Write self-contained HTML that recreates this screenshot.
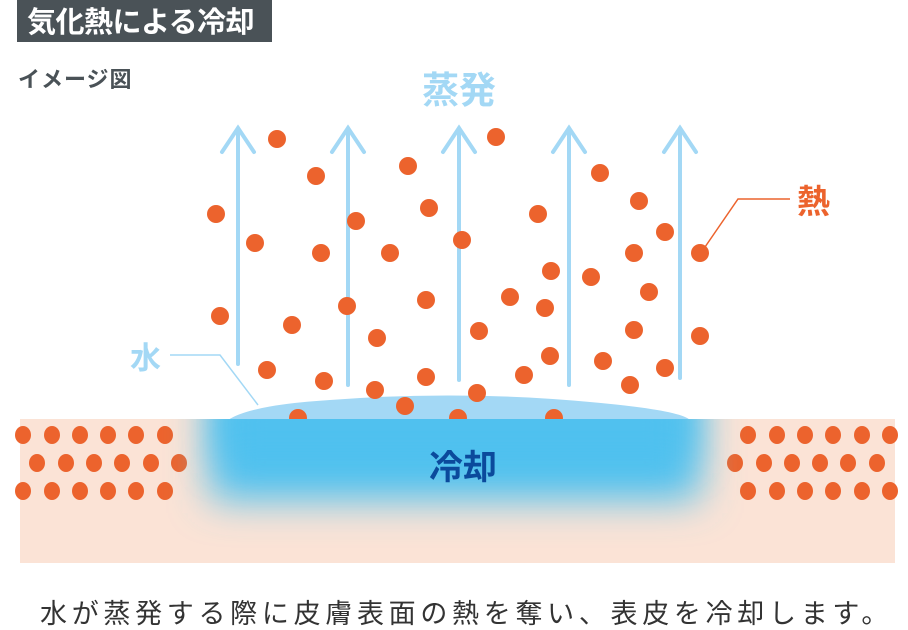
<!DOCTYPE html>
<html><head><meta charset="utf-8"><style>
html,body{margin:0;padding:0;background:#fff;}
body{width:908px;height:630px;overflow:hidden;position:relative;font-family:"Liberation Sans","Noto Sans CJK JP",sans-serif;}
</style></head><body>
<svg width="908" height="630" style="position:absolute;left:0;top:0">
<defs>
<filter id="bl" x="-30%" y="-80%" width="160%" height="260%"><feGaussianBlur stdDeviation="20"/></filter>
<clipPath id="skin"><rect x="20" y="419" width="875" height="144"/></clipPath>
</defs>
<rect x="17" y="0" width="255" height="42" fill="#4a5257"/>
<text x="27" y="32" font-size="29" font-weight="bold" fill="#fff" letter-spacing="-0.5" font-family="Liberation Sans,Noto Sans CJK JP,sans-serif">気化熱による冷却</text>
<text x="18" y="87" font-size="22" font-weight="bold" fill="#4a5257" letter-spacing="1" font-family="Liberation Sans,Noto Sans CJK JP,sans-serif">イメージ図</text>
<text x="459" y="103" font-size="37" font-weight="bold" fill="#a3d8f5" text-anchor="middle" font-family="Liberation Sans,Noto Sans CJK JP,sans-serif">蒸発</text>
<path d="M228 420 Q250 405 330 400 Q460 390 590 402 Q680 410 690 420 Z" fill="#a3d8f5"/>
<g stroke="#a3d8f5" stroke-width="4" fill="none" stroke-linecap="round">
<path d="M238 364V128M222 152L238 128L254 152"/>
<path d="M348 385V128M332 152L348 128L364 152"/>
<path d="M459 380V128M443 152L459 128L475 152"/>
<path d="M569 385V128M553 152L569 128L585 152"/>
<path d="M680 378V128M664 152L680 128L696 152"/>
</g>
<g fill="#ec632d">
<circle cx="277" cy="139" r="9"/><circle cx="216" cy="214" r="9"/><circle cx="255" cy="243" r="9"/><circle cx="316" cy="176" r="9"/><circle cx="321" cy="253" r="9"/><circle cx="356" cy="221" r="9"/><circle cx="220" cy="316" r="9"/><circle cx="292" cy="325" r="9"/><circle cx="347" cy="306" r="9"/><circle cx="377" cy="338" r="9"/><circle cx="267" cy="370" r="9"/><circle cx="324" cy="381" r="9"/><circle cx="375" cy="390" r="9"/><circle cx="405" cy="406" r="9"/><circle cx="426" cy="300" r="9"/><circle cx="429" cy="208" r="9"/><circle cx="408" cy="166" r="9"/><circle cx="390" cy="253" r="9"/><circle cx="462" cy="240" r="9"/><circle cx="479" cy="331" r="9"/><circle cx="426" cy="377" r="9"/><circle cx="458" cy="418" r="9"/><circle cx="298" cy="418" r="9"/><circle cx="496" cy="137" r="9"/>
<circle cx="600" cy="173" r="9"/><circle cx="538" cy="214" r="9"/><circle cx="639" cy="201" r="9"/><circle cx="665" cy="232" r="9"/><circle cx="634" cy="253" r="9"/><circle cx="551" cy="271" r="9"/><circle cx="591" cy="277" r="9"/><circle cx="649" cy="292" r="9"/><circle cx="510" cy="297" r="9"/><circle cx="545" cy="308" r="9"/><circle cx="634" cy="330" r="9"/><circle cx="700" cy="336" r="9"/><circle cx="550" cy="356" r="9"/><circle cx="603" cy="361" r="9"/><circle cx="665" cy="368" r="9"/><circle cx="630" cy="385" r="9"/><circle cx="524" cy="375" r="9"/><circle cx="477" cy="393" r="9"/><circle cx="554" cy="418" r="9"/><circle cx="700" cy="253" r="9"/>
</g>
<rect x="20" y="419" width="875" height="144" fill="#fbe3d6"/>
<g fill="#ec632d">
<ellipse cx="23" cy="435" rx="8" ry="9"/><ellipse cx="52" cy="435" rx="8" ry="9"/><ellipse cx="80" cy="435" rx="8" ry="9"/><ellipse cx="108" cy="435" rx="8" ry="9"/><ellipse cx="136" cy="435" rx="8" ry="9"/><ellipse cx="165" cy="435" rx="8" ry="9"/>
<ellipse cx="37" cy="463" rx="8" ry="9"/><ellipse cx="66" cy="463" rx="8" ry="9"/><ellipse cx="94" cy="463" rx="8" ry="9"/><ellipse cx="122" cy="463" rx="8" ry="9"/><ellipse cx="151" cy="463" rx="8" ry="9"/><ellipse cx="179" cy="463" rx="8" ry="9"/>
<ellipse cx="23" cy="491" rx="8" ry="9"/><ellipse cx="52" cy="491" rx="8" ry="9"/><ellipse cx="80" cy="491" rx="8" ry="9"/><ellipse cx="108" cy="491" rx="8" ry="9"/><ellipse cx="136" cy="491" rx="8" ry="9"/><ellipse cx="165" cy="491" rx="8" ry="9"/>
<ellipse cx="748" cy="435" rx="8" ry="9"/><ellipse cx="777" cy="435" rx="8" ry="9"/><ellipse cx="805" cy="435" rx="8" ry="9"/><ellipse cx="833" cy="435" rx="8" ry="9"/><ellipse cx="862" cy="435" rx="8" ry="9"/><ellipse cx="890" cy="435" rx="8" ry="9"/>
<ellipse cx="735" cy="463" rx="8" ry="9"/><ellipse cx="764" cy="463" rx="8" ry="9"/><ellipse cx="792" cy="463" rx="8" ry="9"/><ellipse cx="820" cy="463" rx="8" ry="9"/><ellipse cx="848" cy="463" rx="8" ry="9"/><ellipse cx="877" cy="463" rx="8" ry="9"/>
<ellipse cx="748" cy="491" rx="8" ry="9"/><ellipse cx="777" cy="491" rx="8" ry="9"/><ellipse cx="805" cy="491" rx="8" ry="9"/><ellipse cx="833" cy="491" rx="8" ry="9"/><ellipse cx="862" cy="491" rx="8" ry="9"/><ellipse cx="890" cy="491" rx="8" ry="9"/>
</g>
<g clip-path="url(#skin)">
<rect x="210" y="380" width="490" height="120" fill="#4fc1ef" filter="url(#bl)"/>
<rect x="220" y="390" width="470" height="70" fill="#4fc1ef" filter="url(#bl)"/>
</g>
<text x="463" y="479" font-size="34" font-weight="bold" fill="#0b4a9c" text-anchor="middle" font-family="Liberation Sans,Noto Sans CJK JP,sans-serif">冷却</text>
<polyline points="170,355 220,355 258,405" fill="none" stroke="#a3d8f5" stroke-width="1.5"/>
<text x="130" y="369" font-size="31" font-weight="bold" fill="#a3d8f5" font-family="Liberation Sans,Noto Sans CJK JP,sans-serif">水</text>
<polyline points="705,247 738,199 790,199" fill="none" stroke="#ec632d" stroke-width="1.5"/>
<text x="797" y="213" font-size="33" font-weight="bold" fill="#ec632d" font-family="Liberation Sans,Noto Sans CJK JP,sans-serif">熱</text>
<text x="40" y="623" font-size="27" fill="#333" letter-spacing="4.6" textLength="853" font-family="Liberation Sans,Noto Sans CJK JP,sans-serif">水が蒸発する際に皮膚表面の熱を奪い、表皮を冷却します。</text>
</svg>
</body></html>
